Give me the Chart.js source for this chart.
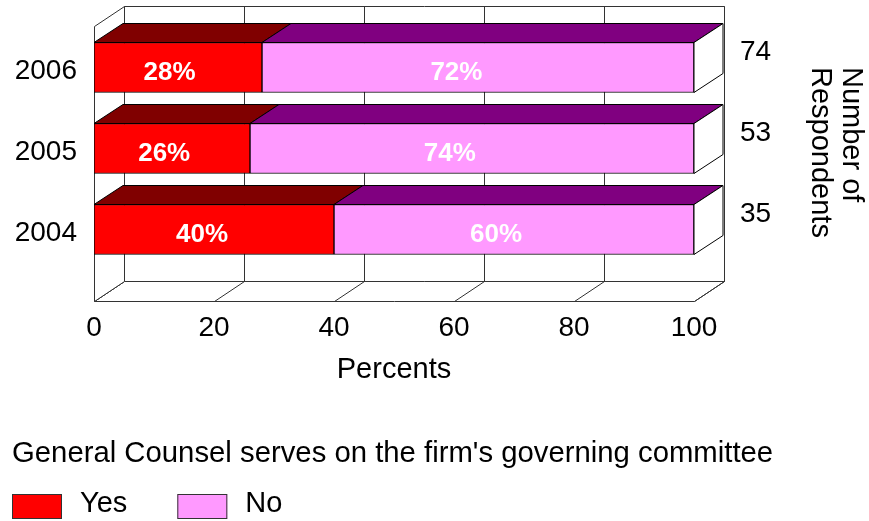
<!DOCTYPE html>
<html>
<head>
<meta charset="utf-8">
<title>General Counsel serves on the firm's governing committee</title>
<script src="https://cdn.jsdelivr.net/npm/chart.js@4.4.1/dist/chart.umd.min.js"></script>
<style>
  html, body { margin: 0; padding: 0; background: #fff; }
</style>
</head>
<body>
<canvas id="chart" width="869" height="521"></canvas>
<script>
// survey answers per year, percent of respondents
const years = ['2006', '2005', '2004'];
const yesPct = [28, 26, 40];
const noPct = [72, 74, 60];
const respondents = ['74', '53', '35'];
const percentTicks = [0, 20, 40, 60, 80, 100];
const seriesNames = ['Yes', 'No'];
const legendTitle = "General Counsel serves on the firm's governing committee";

const FONT = "'Liberation Sans', Arial, Helvetica, sans-serif";
const frontColors = ['#ff0000', '#ff99ff'];
const topColors = ['#800000', '#800080']; // darker shade for the top faces
const wallDepth = { x: 30, y: -20 };
const barDepth = { x: 29, y: -19 };
const lineColor = '#333';

function seg(ctx, x1, y1, x2, y2) {
  ctx.beginPath();
  ctx.moveTo(x1, y1);
  ctx.lineTo(x2, y2);
  ctx.stroke();
}

function poly(ctx, pts, fill, stroke) {
  ctx.beginPath();
  ctx.moveTo(pts[0][0], pts[0][1]);
  for (let i = 1; i < pts.length; i++) ctx.lineTo(pts[i][0], pts[i][1]);
  ctx.closePath();
  if (fill) { ctx.fillStyle = fill; ctx.fill(); }
  if (stroke) { ctx.strokeStyle = stroke; ctx.stroke(); }
}

// vertical axes: no extra room above/below the plot for their labels
function fixedWidth(w) {
  return s => {
    s.width = w;
    s.paddingTop = 0;
    s.paddingBottom = 0;
  };
}

// the open box behind the bars: back wall, left wall and floor
const boxPlugin = {
  id: 'box3d',
  beforeDatasetsDraw(chart) {
    const { ctx, chartArea: a, scales } = chart;
    const xs = scales.x;
    const L = a.left + 0.5, R = a.right + 0.5;
    const T = a.top - 0.5, B = a.bottom + 31.5; // front plane reaches below the bars
    const dx = wallDepth.x, dy = wallDepth.y;
    ctx.save();
    ctx.lineWidth = 1;
    ctx.strokeStyle = lineColor;

    // back wall
    poly(ctx, [[L + dx, T + dy], [R + dx, T + dy], [R + dx, B + dy], [L + dx, B + dy]], '#fff', lineColor);
    for (const v of percentTicks) {
      const px = Math.round(xs.getPixelForValue(v)) + 0.5;
      seg(ctx, px + dx, T + dy, px + dx, B + dy);
    }
    // floor
    poly(ctx, [[L, B], [R, B], [R + dx, B + dy], [L + dx, B + dy]], '#fff', lineColor);
    for (const v of percentTicks) {
      const px = Math.round(xs.getPixelForValue(v)) + 0.5;
      seg(ctx, px, B, px + dx, B + dy);
    }
    // left wall
    poly(ctx, [[L, T], [L + dx, T + dy], [L + dx, B + dy], [L, B]], '#fff', lineColor);
    ctx.restore();
  },
  afterDatasetsDraw(chart) {
    const { ctx } = chart;
    const last = chart.data.datasets.length - 1;
    const dx = barDepth.x, dy = barDepth.y;
    ctx.save();
    ctx.lineWidth = 1;
    chart.data.datasets.forEach((ds, d) => {
      const meta = chart.getDatasetMeta(d);
      meta.data.forEach((el, i) => {
        const p = el.getProps(['x', 'base', 'y', 'height'], true);
        const x0 = Math.min(p.x, p.base), x1 = Math.max(p.x, p.base);
        const top = p.y - p.height / 2, bot = p.y + p.height / 2;
        // top face
        poly(ctx, [[x0, top], [x1, top], [x1 + dx, top + dy], [x0 + dx, top + dy]], topColors[d], '#000');
        // right end face of the stack
        if (d === last) {
          poly(ctx, [[x1, top], [x1 + dx, top + dy], [x1 + dx, bot + dy], [x1, bot]], '#fff', '#000');
        }
        // value label
        ctx.fillStyle = '#fff';
        ctx.font = 'bold 26px ' + FONT;
        ctx.textAlign = 'center';
        ctx.textBaseline = 'middle';
        ctx.fillText(ds.data[i] + '%', x0 + (x1 - x0) * 0.45, p.y + 5);
      });
    });
    ctx.restore();
  },
  afterDraw(chart) {
    const { ctx } = chart;
    ctx.save();
    ctx.fillStyle = '#000';
    ctx.textAlign = 'left';
    ctx.textBaseline = 'alphabetic';

    // right axis title, reading downwards
    ctx.font = '29px ' + FONT;
    const titleLines = ['Number of', 'Respondents'];
    titleLines.forEach((t, k) => {
      ctx.save();
      ctx.translate(843 - k * 31, 67);
      ctx.rotate(Math.PI / 2);
      ctx.fillText(t, 0, 0);
      ctx.restore();
    });

    // legend
    ctx.font = '29.3px ' + FONT;
    ctx.fillText(legendTitle, 12, 462);
    ctx.font = '29px ' + FONT;
    let lx = 12;
    chart.data.datasets.forEach(ds => {
      ctx.fillStyle = ds.backgroundColor;
      ctx.fillRect(lx, 494, 50, 25);
      ctx.strokeStyle = lineColor;
      ctx.lineWidth = 1;
      ctx.strokeRect(lx + 0.5, 494.5, 49, 24);
      ctx.fillStyle = '#000';
      ctx.fillText(ds.label, lx + 68, 512);
      lx += 68 + ctx.measureText(ds.label).width + 50;
    });
    ctx.restore();
  }
};

const tickFont = { family: FONT, size: 28 };

new Chart(document.getElementById('chart'), {
  type: 'bar',
  data: {
    labels: years,
    datasets: [
      { label: seriesNames[0], data: yesPct, backgroundColor: frontColors[0] },
      { label: seriesNames[1], data: noPct, backgroundColor: frontColors[1] }
    ]
  },
  options: {
    responsive: false,
    animation: false,
    indexAxis: 'y',
    layout: { padding: { top: 27, bottom: 132, left: 0, right: 0 } },
    datasets: {
      bar: {
        barThickness: 50,
        borderColor: '#000',
        borderWidth: 1,
        borderSkipped: false
      }
    },
    plugins: {
      legend: { display: false },
      tooltip: { enabled: false }
    },
    scales: {
      x: {
        stacked: true,
        min: percentTicks[0],
        max: percentTicks[percentTicks.length - 1],
        ticks: { stepSize: percentTicks[1] - percentTicks[0], padding: 41, color: '#000', font: tickFont, maxRotation: 0 },
        grid: { display: false, drawTicks: false },
        border: { display: false },
        title: {
          display: true,
          text: 'Percents',
          color: '#000',
          font: { family: FONT, size: 29 },
          padding: { top: 0, bottom: 2 }
        },
        afterFit: s => { s.height = 119; }
      },
      y: {
        stacked: true,
        ticks: { padding: 17, labelOffset: 4, color: '#000', font: tickFont },
        grid: { display: false, drawTicks: false },
        border: { display: false },
        afterFit: fixedWidth(94)
      },
      y2: {
        type: 'category',
        labels: respondents,
        position: 'right',
        offset: true,
        ticks: { padding: 46, labelOffset: -15, color: '#000', font: tickFont },
        grid: { display: false, drawTicks: false },
        border: { display: false },
        afterFit: fixedWidth(175)
      }
    }
  },
  plugins: [boxPlugin]
});
</script>
</body>
</html>
